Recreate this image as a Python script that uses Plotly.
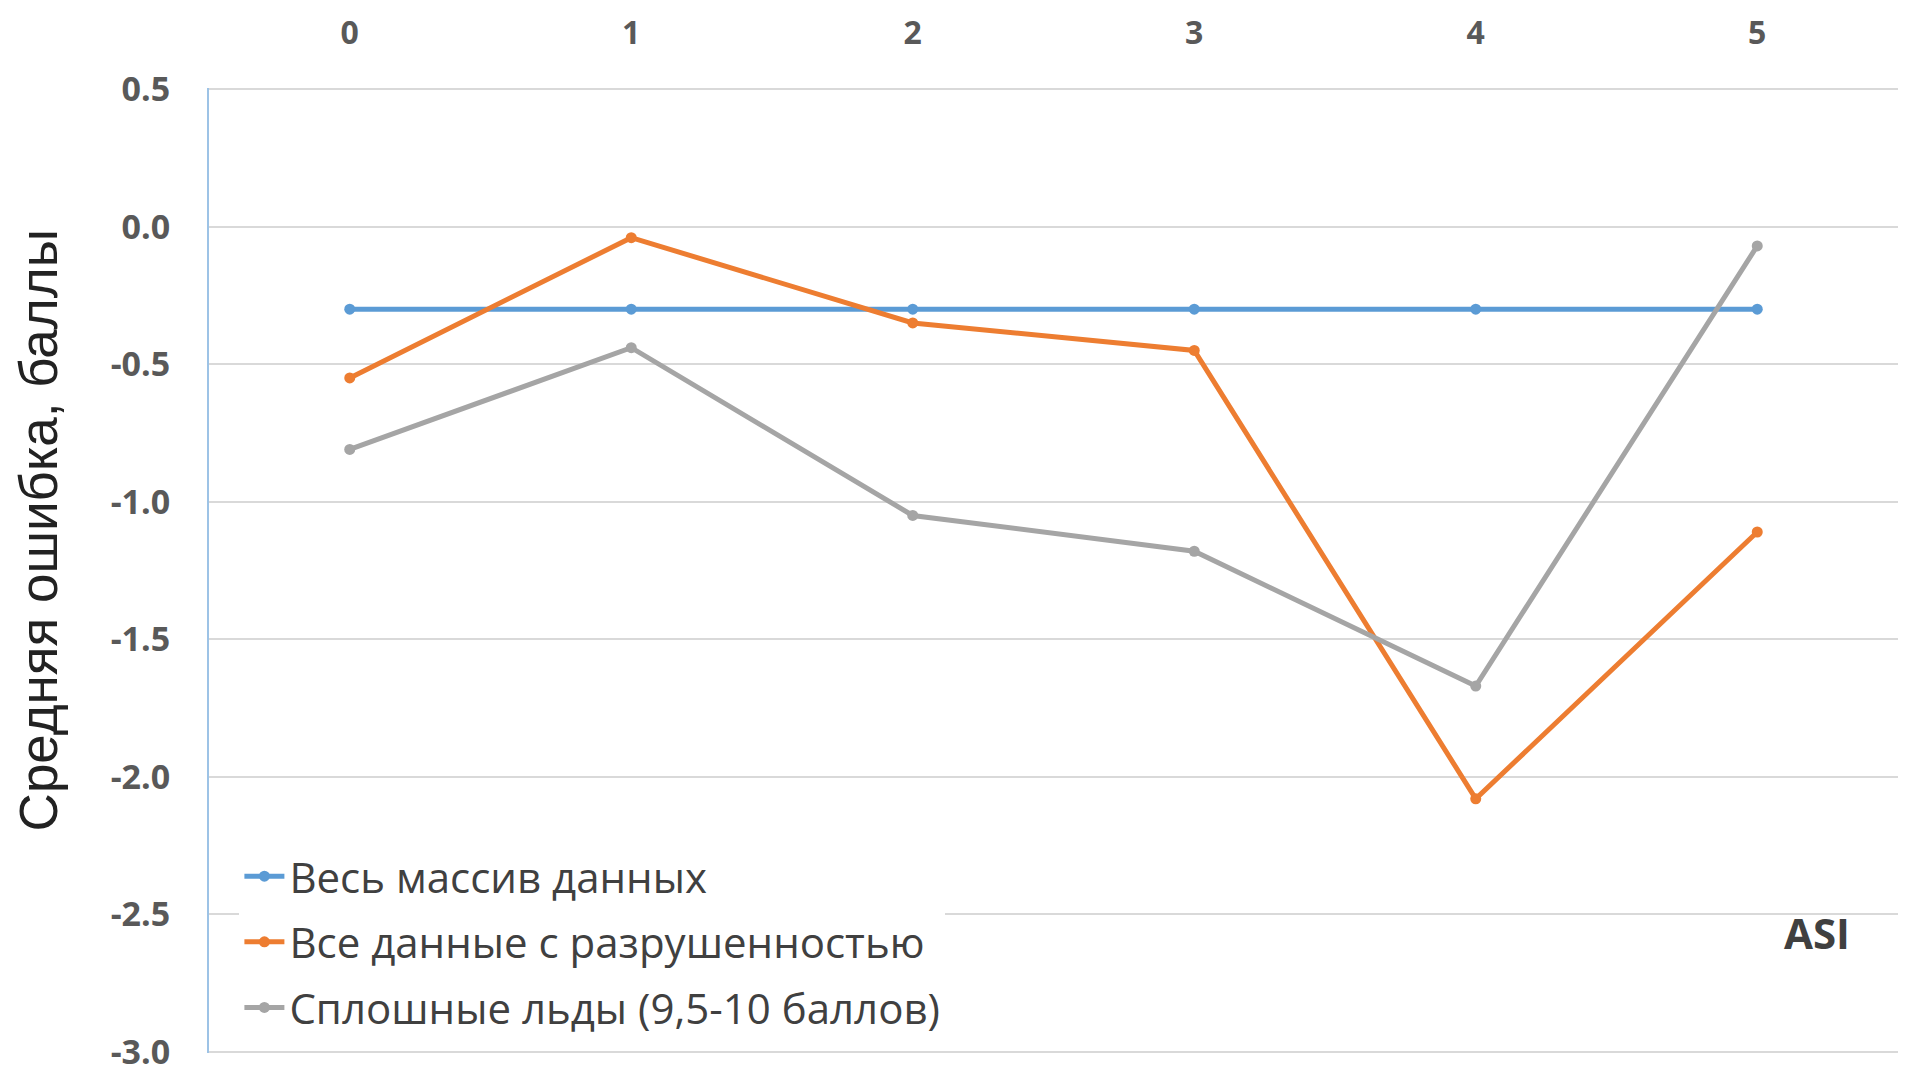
import plotly.graph_objects as go

asi = [0, 1, 2, 3, 4, 5]
series_names = ["Весь массив данных", "Все данные с разрушенностью", "Сплошные льды (9,5-10 баллов)"]
all_data = [-0.30, -0.30, -0.30, -0.30, -0.30, -0.30]
with_breakup = [-0.55, -0.04, -0.35, -0.45, -2.08, -1.11]
solid_ice = [-0.81, -0.44, -1.05, -1.18, -1.67, -0.07]
y_ticks = [0.5, 0.0, -0.5, -1.0, -1.5, -2.0, -2.5, -3.0]
y_tick_text = ["0.5", "0.0", "-0.5", "-1.0", "-1.5", "-2.0", "-2.5", "-3.0"]

colors = ["#5B9BD5", "#ED7D31", "#A5A5A5"]

fig = go.Figure()
for i, (name, vals) in enumerate(zip(series_names, [all_data, with_breakup, solid_ice])):
    fig.add_trace(go.Scatter(
        x=asi, y=vals, name=name, mode="lines+markers",
        line=dict(color=colors[i], width=5),
        marker=dict(color=colors[i], size=11),
        legendgroup=f"g{i}",
    ))

fig.update_layout(
    width=1908, height=1075,
    margin=dict(l=209, r=10, t=88, b=22),
    paper_bgcolor="white", plot_bgcolor="white",
    font=dict(family="Open Sans", color="#595959"),
    showlegend=True,
    legend=dict(
        x=0.018, y=0.012, xanchor="left", yanchor="bottom",
        bgcolor="white", font=dict(size=42, color="#404040", family="Open Sans"),
        tracegroupgap=8, itemwidth=40,
    ),
    xaxis=dict(
        range=[-0.5, 5.5], tickvals=asi, side="top",
        showgrid=False, zeroline=False, showline=False,
        tickfont=dict(size=32, family="Open Sans", color="#595959", weight="bold"),
        ticklabelstandoff=37, automargin=False,
    ),
    yaxis=dict(
        range=[-3.004, 0.504], tickvals=y_ticks, ticktext=y_tick_text,
        showgrid=True, gridcolor="#D9D9D9", gridwidth=2,
        zeroline=False, showline=True, linecolor="#9DC3E6", linewidth=2,
        tickfont=dict(size=34, family="Open Sans", color="#595959", weight="bold"),
        ticklabelstandoff=30, ticklabeloverflow="allow", automargin=False,
    ),
    annotations=[
        dict(
            text="ASI", xref="paper", yref="paper", x=0.952, y=0.125,
            xanchor="center", yanchor="middle", showarrow=False,
            font=dict(size=42, family="Open Sans", color="#404040", weight="bold"),
        ),
        dict(
            text="Средняя ошибка, баллы", xref="paper", yref="paper",
            x=-0.1004, y=0.542, xanchor="center", yanchor="middle",
            textangle=-90, showarrow=False,
            font=dict(size=53, family="Liberation Sans", color="#222222"),
        ),
    ],
)

fig.write_html("out.html")
